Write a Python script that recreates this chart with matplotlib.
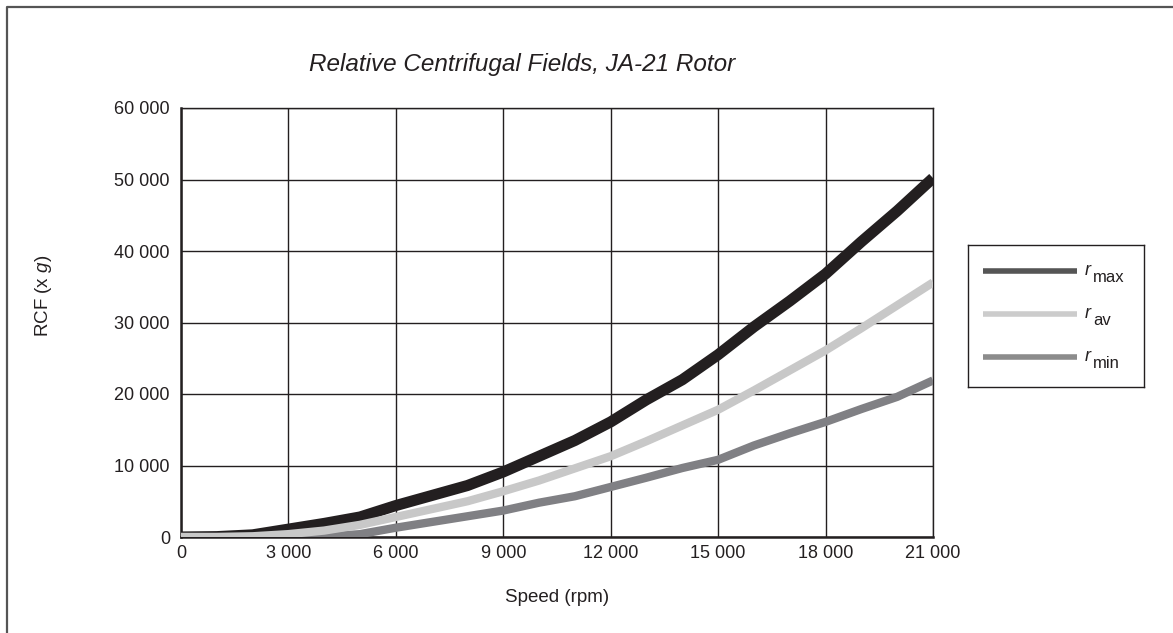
import matplotlib
matplotlib.use('Agg')
import matplotlib.pyplot as plt
from matplotlib.lines import Line2D
import numpy as np

# dữ liệu (RCF theo tốc độ)
speed = [0, 1000, 2000, 3000, 4000, 5000, 6000, 7000, 8000, 9000, 10000,
         11000, 12000, 13000, 14000, 15000, 16000, 17000, 18000, 19000, 20000, 21000]
r_max = [0, 50, 300, 1100, 1900, 2800, 4400, 5800, 7200, 9100, 11300,
         13500, 16100, 19200, 22000, 25500, 29400, 33000, 36800, 41300, 45600, 50200]
r_av = [0, 0, 100, 400, 900, 1700, 2800, 3900, 5000, 6400, 7900,
        9600, 11300, 13400, 15600, 17800, 20500, 23300, 26100, 29200, 32400, 35600]
r_min = [0, 0, 0, 0, 50, 400, 1300, 2100, 2900, 3700, 4800,
         5700, 7000, 8300, 9650, 10800, 12800, 14500, 16100, 17900, 19600, 21900]

x_ticks = [0, 3000, 6000, 9000, 12000, 15000, 18000, 21000]
y_ticks = [0, 10000, 20000, 30000, 40000, 50000, 60000]
legend_subs = ['max', 'av', 'min']

plt.rcParams['font.family'] = ['Liberation Sans', 'DejaVu Sans']
plt.rcParams['mathtext.fontset'] = 'custom'
plt.rcParams['mathtext.rm'] = 'Liberation Sans'
plt.rcParams['mathtext.it'] = 'Liberation Sans:italic'

ink = '#231f20'

fig = plt.figure(figsize=(11.73, 6.33), dpi=100)
ax = fig.add_axes([181 / 1173, 1 - 537 / 633, 752 / 1173, 429 / 633])

ax.plot(speed, r_max, color=ink, lw=8, solid_capstyle='butt', zorder=3)
ax.plot(speed, r_min, color='#808084', lw=6, solid_capstyle='butt', zorder=4)
ax.plot(speed, r_av, color='#c8c8c8', lw=6, solid_capstyle='butt', zorder=5)

ax.set_xlim(0, 21000)
ax.set_ylim(0, 60000)
ax.set_xticks(x_ticks)
ax.set_yticks(y_ticks)
fmt = lambda v: f'{v:,}'.replace(',', ' ')
ax.set_xticklabels([fmt(v) for v in x_ticks])
ax.set_yticklabels([fmt(v) for v in y_ticks])
ax.tick_params(length=0, labelsize=13, colors=ink)
ax.tick_params(axis='y', pad=8)
ax.tick_params(axis='x', pad=6)
ax.grid(True, color=ink, lw=1.0)
ax.set_axisbelow(True)
for s in ax.spines.values():
    s.set_color(ink)
    s.set_linewidth(1.0)
ax.spines['left'].set_linewidth(1.8)
ax.spines['bottom'].set_linewidth(1.8)

fig.text(522 / 1173, 1 - 64 / 633, 'Relative Centrifugal Fields, JA-21 Rotor',
         ha='center', va='center', fontsize=17.5, style='italic', color=ink)
fig.text(43 / 1173, 1 - 296 / 633, 'RCF (x $g$)', rotation=90,
         ha='center', va='center', fontsize=13.5, color=ink)
fig.text(557 / 1173, 1 - 598 / 633, 'Speed (rpm)',
         ha='center', va='center', fontsize=13.5, color=ink)

# hộp chú thích
lax = fig.add_axes([968 / 1173, 1 - 387 / 633, 176 / 1173, 142 / 633])
lax.set_xlim(0, 176)
lax.set_ylim(142, 0)
lax.set_xticks([])
lax.set_yticks([])
for s in lax.spines.values():
    s.set_color(ink)
    s.set_linewidth(1.0)
leg_colors = ['#555555', '#cccccc', '#8c8c8c']
for i, (sub, c) in enumerate(zip(legend_subs, leg_colors)):
    yy = 26 + i * 43
    lax.add_line(Line2D([15, 109], [yy, yy], color=c, lw=4, solid_capstyle='butt'))
    lax.text(117, yy + 4, 'r', fontsize=13, style='italic', va='baseline', ha='left', color=ink)
    lax.text(125, yy + 11, sub, fontsize=12, va='baseline', ha='left', color=ink)

# khung viền
fig.add_artist(Line2D([7 / 1173, 7 / 1173, 1], [0, 1 - 7 / 633, 1 - 7 / 633],
                      transform=fig.transFigure, color='#555555', lw=1.6))

fig.savefig('out.png', dpi=100)
